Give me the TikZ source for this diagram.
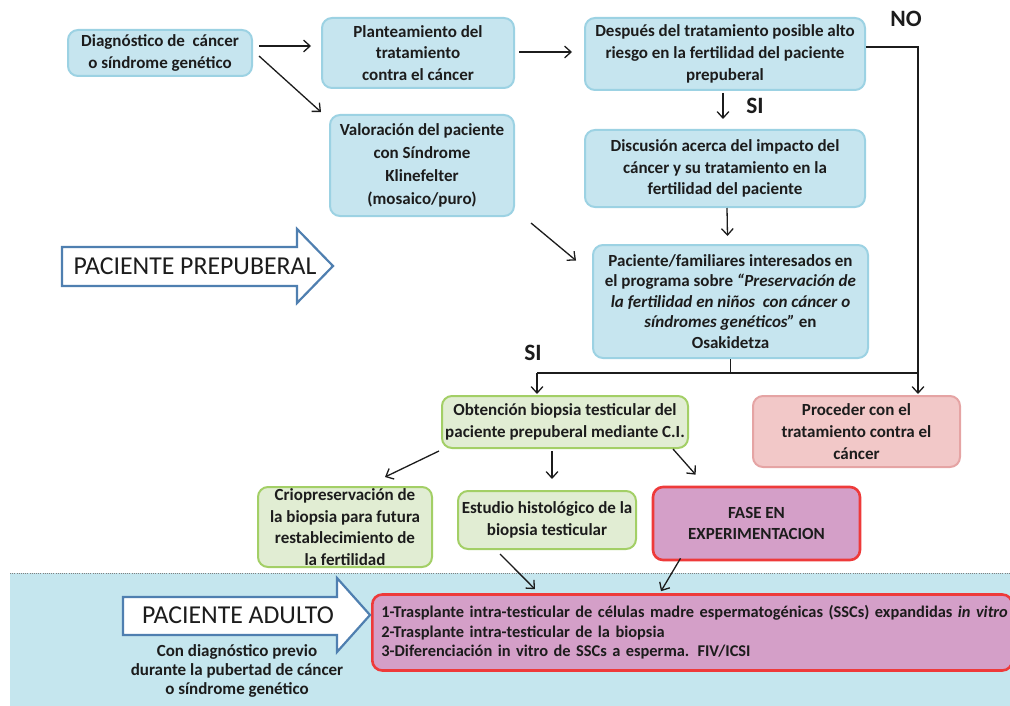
\documentclass[tikz,border=0pt]{standalone}
\usepackage{fontspec}
\setmainfont{Carlito}
\usetikzlibrary{arrows.meta,calc}
\newlength\px
\setlength\px{0.03cm}
\definecolor{bfill}{HTML}{C6E5EF}
\definecolor{bline}{HTML}{9CD2E3}
\definecolor{gfill}{HTML}{E1EDD3}
\definecolor{gline}{HTML}{A3CF66}
\definecolor{pfill}{HTML}{F2C8C8}
\definecolor{pline}{HTML}{E5A4A4}
\definecolor{mfill}{HTML}{D49FC8}
\definecolor{rline}{HTML}{EE3A3A}
\definecolor{bgblue}{HTML}{C5E6EE}
\definecolor{arrline}{HTML}{4F7FB0}
\definecolor{txt}{HTML}{1C1C1C}
\tikzset{
  box/.style={rounded corners=10\px, line width=2\px, align=center, inner sep=0pt,
    text=txt, font=\fontsize{14.5}{18.5}\selectfont\bfseries},
  bluebox/.style={box, draw=bline, fill=bfill},
  greenbox/.style={box, draw=gline, fill=gfill},
  pinkbox/.style={box, draw=pline, fill=pfill},
  expbox/.style={box, draw=rline, fill=mfill, line width=2.6\px},
  arr/.style={-{Straight Barb[length=5.5pt,width=10pt]}, line width=1.3\px, draw=txt},
  conn/.style={line width=1.3\px, draw=txt},
  lbl/.style={font=\fontsize{20}{22}\selectfont\bfseries, text=txt, inner sep=0pt},
  bigarrow/.style={draw=arrline, fill=white, line width=2.2\px, line join=miter},
  bigtext/.style={text=txt, inner sep=0pt, font=\fontsize{22}{24}\selectfont},
}
\begin{document}
\begin{tikzpicture}[x=0.03cm,y=-0.03cm]
\useasboundingbox (0,0) rectangle (1010,706);
% bottom background
\fill[bgblue] (10,573) rectangle (1010,706);
\draw[gray, densely dotted, line width=1\px] (10,573) -- (1010,573);

% nodes
\node[bluebox, minimum width=184\px, minimum height=46\px] (diag) at (160,53)
  {Diagnóstico de~ cáncer\\ o síndrome genético};
\node[bluebox, minimum width=192\px, minimum height=70\px] (plan) at (418,53)
  {Planteamiento del\\ tratamiento\\ contra el cáncer};
\node[bluebox, minimum width=280\px, minimum height=72\px] (desp) at (725,54)
  {Después del tratamiento posible alto\\ riesgo en la fertilidad del paciente\\ prepuberal};
\node[bluebox, minimum width=184\px, minimum height=101\px, font=\fontsize{14.5}{19.5}\selectfont\bfseries] (val) at (422,165.5)
  {Valoración del paciente\\ con Síndrome\\ Klinefelter\\ (mosaico/puro)};
\node[bluebox, minimum width=280\px, minimum height=77\px] (disc) at (725,168.5)
  {Discusión acerca del impacto del\\ cáncer y su tratamiento en la\\ fertilidad del paciente};
\node[bluebox, minimum width=275\px, minimum height=113\px, font=\fontsize{14.5}{17.5}\selectfont\bfseries] (pac) at (730.5,301.5)
  {Paciente/familiares interesados en\\ el programa sobre \textit{“Preservación de}\\ \textit{la fertilidad en niños~ con cáncer o}\\ \textit{síndromes genéticos”} en\\ Osakidetza};
\node[greenbox, minimum width=246\px, minimum height=52\px] (obt) at (565,422)
  {Obtención biopsia testicular del\\ paciente prepuberal mediante C.I.};
\node[pinkbox, minimum width=207\px, minimum height=71\px] (proc) at (856.5,431.5)
  {Proceder con el\\ tratamiento contra el\\ cáncer};
\node[greenbox, minimum width=174\px, minimum height=80\px] (crio) at (345,527)
  {Criopreservación de\\ la biopsia para futura\\ restablecimiento de\\ la fertilidad};
\node[greenbox, minimum width=178\px, minimum height=58\px] (est) at (547,520)
  {Estudio histológico de la\\ biopsia testicular};
\node[expbox, minimum width=207\px, minimum height=73\px] (fase) at (756.5,523.5)
  {FASE EN\\ EXPERIMENTACION};
\node[expbox, anchor=west, minimum height=76\px, align=left, text width=622\px,
  inner xsep=9\px, font=\fontsize{14}{16.6}\selectfont\bfseries] (bot) at (371,632.5)
  {\mbox{1-Trasplante intra-testicular de células madre espermatogénicas (SSCs) expandidas \textit{in vitro}}\\
   2-Trasplante intra-testicular de la biopsia\\
   3-Diferenciación in vitro de SSCs a esperma. FIV/ICSI};

% big arrows
\draw[bigarrow] (62,247) -- (297,247) -- (297,229) -- (333,266) -- (297,303) -- (297,286) -- (62,286) -- cycle;
\node[bigtext] (prep) at (195,266) {PACIENTE PREPUBERAL};
\draw[bigarrow] (123,597) -- (337,597) -- (337,578) -- (370,615) -- (337,652) -- (337,635) -- (123,635) -- cycle;
\node[bigtext] (adul) at (238,615) {PACIENTE ADULTO};
\node[text=txt, align=center, inner sep=0pt, font=\fontsize{14.5}{16.3}\selectfont\bfseries] (prev) at (237,671)
  {Con diagnóstico previo\\ durante la pubertad de cáncer\\ o síndrome genético};

% labels
\node[lbl] (no) at (906,19) {NO};
\node[lbl] (si1) at (755,106) {SI};
\node[lbl] (si2) at (533,353) {SI};

% connectors
\draw[arr] ($(diag.east)+(6,-7)$) -- ($(plan.west)+(-10,-7)$);
\draw[arr] ($(diag.east)+(6,3)$) -- ($(val.north west)+(-8,-2)$);
\draw[arr] ($(plan.east)+(4,-1)$) -- ($(desp.west)+(-12,-2)$);
\draw[arr] ($(desp.south)+(-2,2)$) -- ($(disc.north)+(-2,-10)$);
\draw[arr] ($(disc.south)+(2,0)$) -- ($(pac.north)+(-3,-8)$);
\draw[arr] ($(val.south east)+(16,6)$) -- ($(pac.west)+(-16,-41)$);

\coordinate (jL) at (537,373);
\coordinate (jR) at (918,373);
\draw[conn] ($(desp.east)+(0,-7)$) -| (jR);
\draw[conn] (pac.south) -- (pac.south |- jL);
\draw[conn] (jL) -- (jR);
\draw[arr] (jL) -- ($(jL |- obt.north)+(0,-1)$);
\draw[arr] (jR) -- ($(jR |- proc.north)+(0,-1)$);

\draw[arr] ($(obt.south west)+(-2,2)$) -- ($(crio.north)+(40,-9)$);
\draw[arr] ($(obt.south)+(-13,2)$) -- ($(est.north)+(5,-11)$);
\draw[arr] ($(obt.south east)+(-16,0)$) -- ($(fase.north west)+(44,-11)$);
\draw[arr] ($(est.south)+(-47,4)$) -- ($(bot.north west)+(164,-4)$);
\draw[arr] ($(fase.south)+(-76,-3)$) -- ($(bot.north west)+(290,-2)$);
\end{tikzpicture}
\end{document}
